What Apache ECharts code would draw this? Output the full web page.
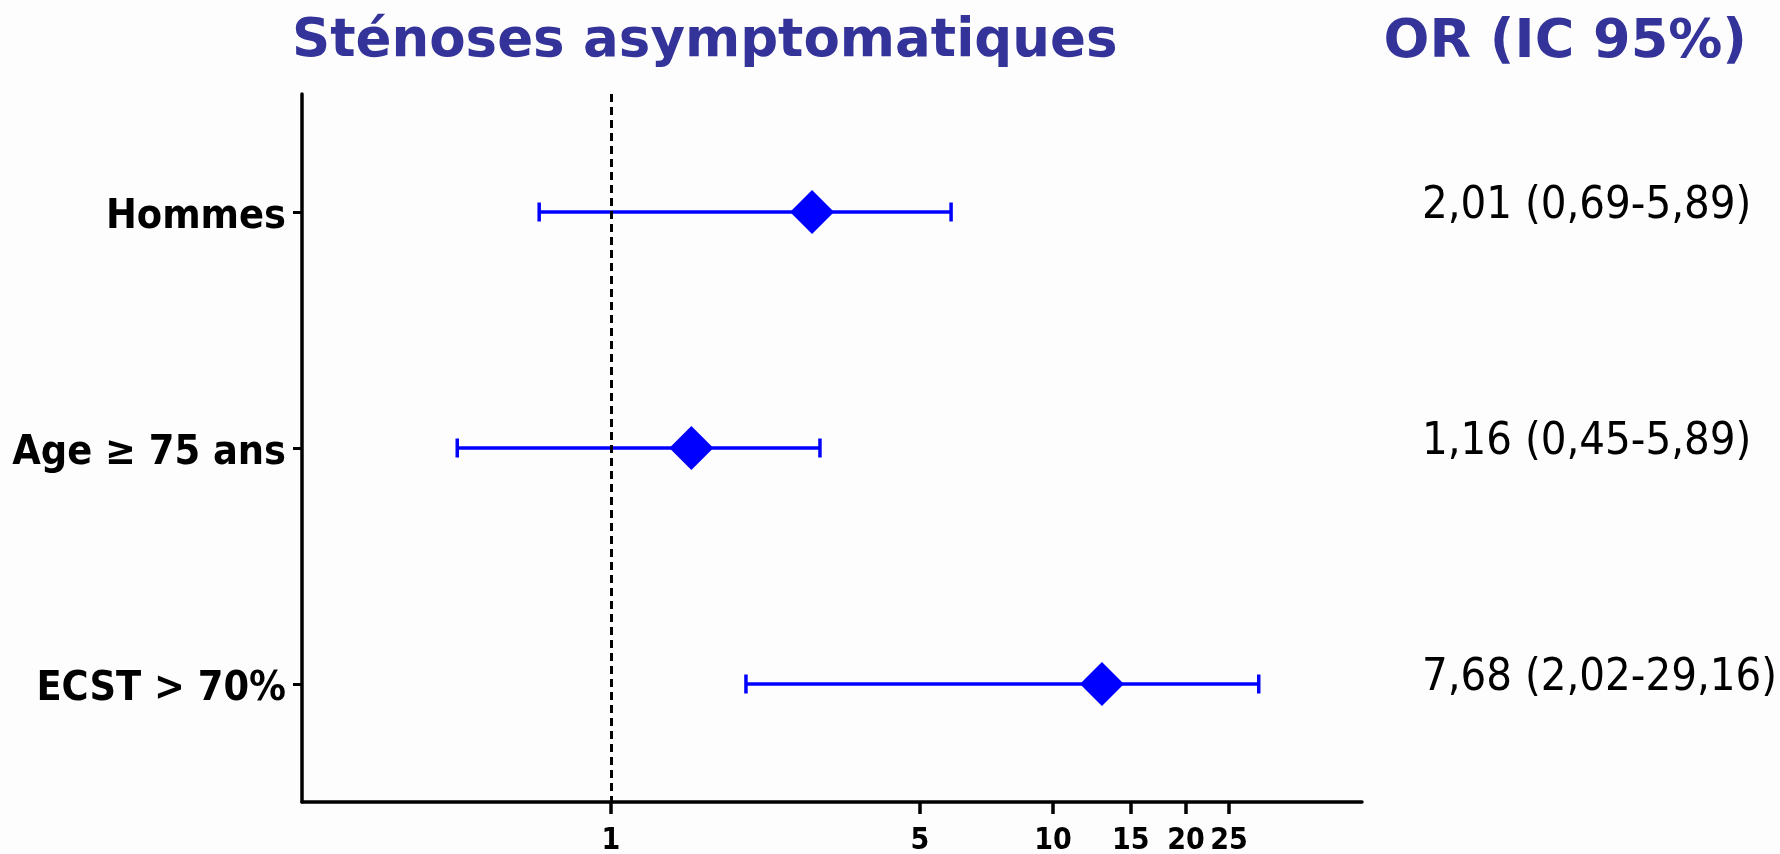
<!DOCTYPE html>
<html>
<head>
<meta charset="utf-8">
<script src="https://cdn.jsdelivr.net/npm/echarts@6/dist/echarts.min.js"></script>
<style>
  html, body { margin: 0; padding: 0; background: #fdfdfd; }
  #main { width: 1780px; height: 854px; }
</style>
</head>
<body>
<div id="main"></div>
<script>
// données
var categories = ['Hommes', 'Age \u2265 75 ans', 'ECST > 70%'];
var orPoint = [2.85, 1.52, 12.9];      // position du losange
var ciLow   = [0.688, 0.449, 2.02];
var ciHigh  = [5.88, 2.97, 29.2];
var orText  = ['2,01 (0,69-5,89)', '1,16 (0,45-5,89)', '7,68 (2,02-29,16)'];
var xTicks  = [1, 5, 10, 15, 20, 25];

var narrowBold = "'DejaVu Sans Condensed', 'DejaVu Sans', sans-serif";

var chart = echarts.init(document.getElementById('main'));

var pointData = [];
var barData = [];
for (var i = 0; i < categories.length; i++) {
    pointData.push([orPoint[i], i]);
    barData.push([ciLow[i], ciHigh[i], i]);
}

var option = {
    backgroundColor: '#fdfdfd',
    animation: false,
    title: [{
        text: 'Sténoses asymptomatiques',
        left: 287,
        top: 11,
        textStyle: { fontFamily: 'DejaVu Sans', fontWeight: 'bold', fontSize: 53, color: '#333399' }
    }, {
        text: 'OR (IC 95%)',
        right: 28,
        top: 11,
        textStyle: { fontFamily: 'DejaVu Sans', fontWeight: 'bold', fontSize: 54, color: '#333399' }
    }],
    grid: { left: 302, right: 418, top: 94, bottom: 52, outerBoundsMode: 'none' },
    xAxis: {
        type: 'log',
        logBase: 10,
        min: 0.2,
        max: 50,
        splitLine: { show: false },
        axisLine: { show: true, lineStyle: { color: '#000', width: 3.5 } },
        axisTick: { show: true, customValues: xTicks, length: 12, lineStyle: { color: '#000', width: 3.5 } },
        axisLabel: {
            customValues: xTicks,
            hideOverlap: false,
            margin: 24,
            color: '#000',
            fontFamily: narrowBold,
            fontWeight: 'bold',
            fontSize: 30,
            formatter: function (v) { return String(Math.round(v)); }
        }
    },
    yAxis: [{
        type: 'category',
        data: categories,
        inverse: true,
        axisLine: { show: true, lineStyle: { color: '#000', width: 3.5 } },
        axisTick: { show: true, alignWithLabel: true, length: 9, lineStyle: { color: '#000', width: 3 } },
        axisLabel: {
            margin: 16,
            color: '#000',
            fontFamily: narrowBold,
            fontWeight: 'bold',
            fontSize: 41,
            verticalAlign: 'top',
            lineHeight: 10
        }
    }, {
        type: 'category',
        data: orText,
        inverse: true,
        position: 'right',
        axisLine: { show: false },
        axisTick: { show: false },
        axisLabel: {
            margin: 60,
            color: '#000',
            fontFamily: "'DejaVu Sans Condensed', 'DejaVu Sans', sans-serif",
            fontSize: 45,
            verticalAlign: 'bottom',
            lineHeight: 12
        }
    }],
    series: [{
        type: 'custom',
        name: 'IC 95%',
        data: barData,
        encode: { x: [0, 1], y: 2 },
        z: 3,
        renderItem: function (params, api) {
            var lo = api.coord([api.value(0), api.value(2)]);
            var hi = api.coord([api.value(1), api.value(2)]);
            var cap = 9.5;
            var style = { stroke: '#0000ff', lineWidth: 3.5 };
            return {
                type: 'group',
                children: [
                    { type: 'line', shape: { x1: lo[0], y1: lo[1], x2: hi[0], y2: hi[1] }, style: style },
                    { type: 'line', shape: { x1: lo[0], y1: lo[1] - cap, x2: lo[0], y2: lo[1] + cap }, style: style },
                    { type: 'line', shape: { x1: hi[0], y1: hi[1] - cap, x2: hi[0], y2: hi[1] + cap }, style: style }
                ]
            };
        }
    }, {
        type: 'scatter',
        name: 'OR',
        data: pointData,
        symbol: 'diamond',
        symbolSize: [44, 44],
        z: 4,
        itemStyle: { color: '#0000ff', opacity: 1 },
        markLine: {
            silent: true,
            symbol: 'none',
            label: { show: false },
            lineStyle: { color: '#000', width: 3, type: [8, 5] },
            data: [{ xAxis: 1 }]
        }
    }]
};

chart.setOption(option);
</script>
</body>
</html>
